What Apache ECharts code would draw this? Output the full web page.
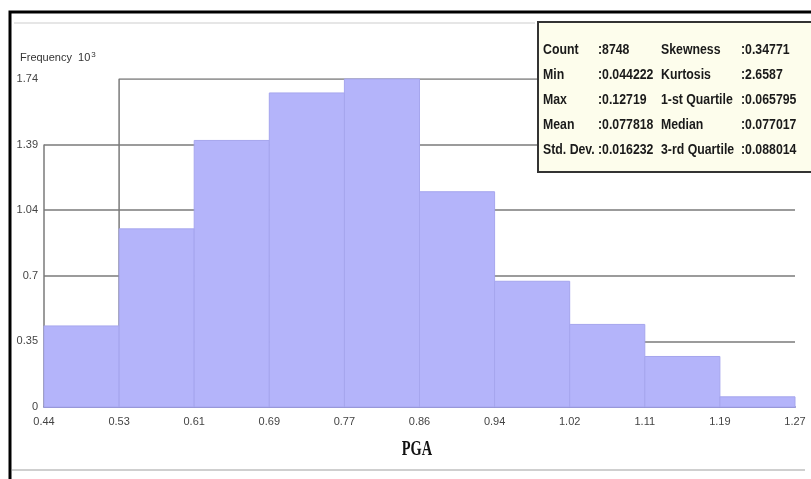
<!DOCTYPE html>
<html>
<head>
<meta charset="utf-8">
<script src="https://cdn.jsdelivr.net/npm/echarts@6/dist/echarts.min.js"></script>
<style>
html,body{margin:0;padding:0;background:#fff;}
#chart{width:811px;height:479px;}
</style>
</head>
<body>
<div id="chart"></div>
<script>
// ---- data ----
const xTickLabels = ['0.44','0.53','0.61','0.69','0.77','0.86','0.94','1.02','1.11','1.19','1.27'];
const yTickLabels = ['0','0.35','0.7','1.04','1.39','1.74'];
const yMax = 1.74;
const frequencies = [0.43, 0.945, 1.414, 1.666, 1.74, 1.142, 0.667, 0.438, 0.268, 0.054];
const statNames1 = ['Count','Min','Max','Mean','Std. Dev.'];
const statValues1 = [':8748',':0.044222',':0.12719',':0.077818',':0.016232'];
const statNames2 = ['Skewness','Kurtosis','1-st Quartile','Median','3-rd Quartile'];
const statValues2 = [':0.34771',':2.6587',':0.065795',':0.077017',':0.088014'];

const chart = echarts.init(document.getElementById('chart'), null, {renderer:'canvas'});

const binData = frequencies.map((v,i)=>[i, v]);
const yStep = yMax / (yTickLabels.length - 1);

const statFont = 'bold 15px "Liberation Sans", Arial, sans-serif';
const statTexts = [];
const rowY0 = 50, rowStep = 25;
const colX = [543, 598, 661, 741];
for (let r = 0; r < statNames1.length; r++) {
  const cells = [statNames1[r], statValues1[r], statNames2[r], statValues2[r]];
  cells.forEach((t, c) => {
    statTexts.push({type:'text', x: colX[c], y: rowY0 + r*rowStep, scaleX:0.82, z: 20,
      style:{text:t, font: statFont, fill:'#1a1a1a', textVerticalAlign:'middle', verticalAlign:'middle'}});
  });
}

const axisFont = '"Liberation Sans", Arial, sans-serif';
const option = {
  animation:false,
  grid:{left:44, right:16, top:79, bottom:72},
  xAxis:{
    type:'value', min:0, max:xTickLabels.length-1, interval:1,
    axisLine:{show:true, lineStyle:{color:'#8a8ac4', width:2}},
    axisTick:{show:false},
    splitLine:{show:false},
    axisLabel:{formatter:v=>xTickLabels[Math.round(v)], color:'#444', fontSize:11,
      fontFamily:axisFont, margin:9}
  },
  yAxis:{
    type:'value', min:0, max:yMax, interval:yStep,
    axisLine:{show:false}, axisTick:{show:false},
    splitLine:{show:true, showMinLine:false, showMaxLine:false, lineStyle:{color:'#7a7a7a', width:1.5}},
    axisLabel:{formatter:v=>yTickLabels[Math.round(v/yStep)], color:'#444', fontSize:11,
      fontFamily:axisFont, margin:6}
  },
  series:[
    {type:'line', z:1, symbol:'none', silent:true,
      lineStyle:{color:'#7a7a7a', width:1.5},
      data:[[1,0],[1,yMax],[xTickLabels.length-1,yMax]]},
    {type:'line', z:1, symbol:'none', silent:true,
      lineStyle:{color:'#7a7a7a', width:1.5},
      data:[[0,0],[0,yStep*4]]},
    {type:'custom', z:3, data:binData,
      renderItem:function(params, api){
        const i = api.value(0), h = api.value(1);
        const p0 = api.coord([i, h]);
        const p1 = api.coord([i+1, 0]);
        return {type:'rect', shape:{x:p0[0], y:p0[1], width:p1[0]-p0[0], height:p1[1]-p0[1]},
          style:{fill:'#b4b4fa', stroke:'#a6a6ee', lineWidth:1}};
      }
    }
  ],
  graphic:[
    {type:'rect', shape:{x:10, y:12, width:900, height:600}, z:0,
      style:{fill:'none', stroke:'#000', lineWidth:3}},
    {type:'line', shape:{x1:14, y1:23, x2:535, y2:23}, style:{stroke:'#e6e6e6', lineWidth:2}},
    {type:'line', shape:{x1:12, y1:470, x2:805, y2:470}, style:{stroke:'#cfcfcf', lineWidth:2}},
    {type:'text', left:20, top:51, style:{
      text:'{a|Frequency  10}{s|3}', fill:'#333',
      rich:{a:{fontSize:11, fontFamily:axisFont, fill:'#333'},
            s:{fontSize:8, fontFamily:axisFont, fill:'#333', verticalAlign:'top', padding:[0,0,6,1]}}}},
    {type:'text', x:417, y:450, scaleX:0.72, style:{text:'PGA', font:'bold 20px "Liberation Serif", serif', fill:'#111',
      align:'center', verticalAlign:'middle', textAlign:'center', textVerticalAlign:'middle'}},
    {type:'rect', shape:{x:538, y:22, width:280, height:150}, z:10,
      style:{fill:'#fdfdec', stroke:'#333', lineWidth:2}}
  ].concat(statTexts)
};
chart.setOption(option);
</script>
</body>
</html>
